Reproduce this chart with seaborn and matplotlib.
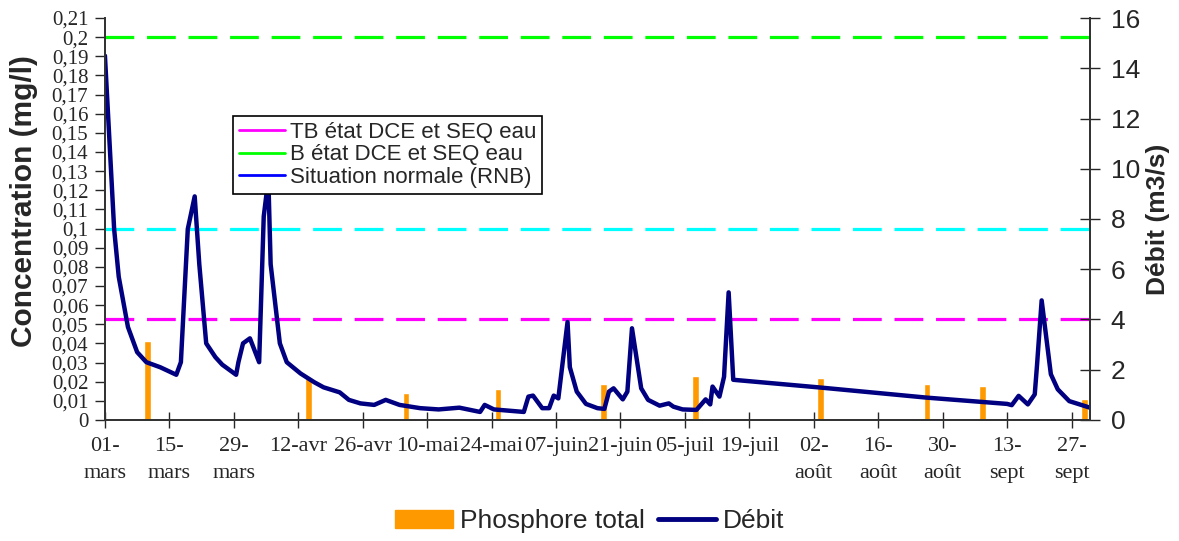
import matplotlib
matplotlib.use("Agg")
import matplotlib.pyplot as plt
from matplotlib.lines import Line2D
from matplotlib.patches import Patch
from matplotlib.ticker import FuncFormatter, MultipleLocator
import seaborn as sns

# day 0 = 01-mars
jours_debit = [0, 2, 3, 5, 7, 9, 12, 15.5, 16.5, 18, 19.5, 20.5, 22, 24, 25.5,
               28.5, 29, 30, 31.5, 33.5, 34.5, 35.5, 36, 38, 39.5, 42.5, 45.5,
               47.5, 51, 53, 55.5, 58.5, 61, 64, 68.5, 72.5, 77, 81.5, 82.5,
               84.5, 91, 92, 93, 95, 96.5, 97.5, 98.5, 100.5, 101, 102.5, 104.5,
               107, 108.5, 109.5, 110.5, 112.5, 113.5, 114.5, 116.5, 118, 120.5,
               122.5, 123.5, 125.5, 128.5, 130.5, 131.5, 132, 133.5, 134.5, 135.5,
               136.5, 155.5, 178.5, 196, 197, 198.5, 200.5, 202, 202.5, 203.5,
               205.5, 207, 209.5, 214]
debit = [14.5, 7.6, 5.7, 3.7, 2.7, 2.3, 2.1, 1.8, 2.3, 7.6, 8.9, 6.2, 3.05, 2.5,
         2.2, 1.8, 2.3, 3.05, 3.25, 2.3, 8.1, 9.6, 6.2, 3.05, 2.3, 1.85, 1.5,
         1.3, 1.1, 0.8, 0.66, 0.6, 0.8, 0.6, 0.47, 0.42, 0.49, 0.32, 0.6, 0.42,
         0.32, 0.93, 0.97, 0.47, 0.47, 0.97, 0.86, 3.9, 2.1, 1.13, 0.64, 0.47,
         0.44, 1.13, 1.26, 0.82, 1.13, 3.65, 1.26, 0.8, 0.57, 0.66, 0.53, 0.42,
         0.4, 0.82, 0.62, 1.33, 0.93, 1.72, 5.08, 1.6, 1.29, 0.89, 0.64, 0.59,
         0.96, 0.62, 1.02, 2.2, 4.76, 1.82, 1.22, 0.75, 0.49]

jours_phos = [9.3, 44.3, 65.4, 85.4, 108.3, 128.3, 155.4, 178.6, 190.7, 212.8]
phosphore = [0.041, 0.022, 0.014, 0.016, 0.019, 0.023, 0.022, 0.019, 0.018, 0.011]

seuils = {"TB état DCE et SEQ eau": 0.053,
          "B état DCE et SEQ eau": 0.2,
          "Situation normale (RNB)": 0.1}
couleurs_seuils = ["#FF00FF", "#00FF00", "#00FFFF"]
couleurs_legende = ["#FF00FF", "#00FF00", "#0000FF"]

tick_jours = list(range(0, 211, 14))
tick_labels = ["01-\nmars", "15-\nmars", "29-\nmars", "12-avr", "26-avr",
               "10-mai", "24-mai", "07-juin", "21-juin", "05-juil", "19-juil",
               "02-\naoût", "16-\naoût", "30-\naoût", "13-\nsept", "27-\nsept"]

sns.set_style("ticks")
plt.rcParams["font.family"] = ["Liberation Sans", "DejaVu Sans"]

fig = plt.figure(figsize=(11.79, 5.41), dpi=100)
ax = fig.add_axes([0.089, 0.2237, 0.8355, 0.743])
ax2 = ax.twinx()

ax.bar(jours_phos, phosphore, width=1.5, color="#FF9900", zorder=2)
for (nom, val), c in zip(seuils.items(), couleurs_seuils):
    ax.axhline(val, color=c, lw=2.3, dashes=(9, 4), zorder=3)

sns.lineplot(x=jours_debit, y=debit, ax=ax2, color="#000080", lw=3.2)

ax.set_xlim(0, 214)
ax.set_ylim(0, 0.21)
ax2.set_ylim(0, 16)

ax.yaxis.set_major_locator(MultipleLocator(0.01))
ax.yaxis.set_major_formatter(FuncFormatter(
    lambda v, p: f"{v:.2f}".rstrip("0").rstrip(".").replace(".", ",")))
ax2.yaxis.set_major_locator(MultipleLocator(2))

ax.set_xticks(tick_jours)
ax.set_xticklabels(tick_labels, fontsize=16, family="Liberation Serif",
                   linespacing=1.6)
for t in ax.get_yticklabels():
    t.set_family("Liberation Serif")
    t.set_fontsize(15)
ax2.tick_params(axis="y", labelsize=19, direction="inout", length=14,
                width=1, pad=8)
ax.tick_params(axis="y", direction="out", length=7, width=1, pad=5)
ax.tick_params(axis="x", direction="inout", length=12, width=1, pad=6)

for a in (ax, ax2):
    a.spines["top"].set_visible(False)
    for s in ("left", "right", "bottom"):
        a.spines[s].set_color("#333333")
        a.spines[s].set_linewidth(1.3)

ax.set_ylabel("Concentration (mg/l)", fontsize=21.5, fontweight="bold")
ax.yaxis.set_label_coords(-0.068, 0.545)
ax2.set_ylabel("Débit (m3/s)", fontsize=19, fontweight="bold")
ax2.yaxis.set_label_coords(1.057, 0.5)
ax.set_xlabel("")
ax2.set_xlabel("")

handles = [Line2D([], [], color=c, lw=2) for c in couleurs_legende]
leg = ax2.legend(handles, list(seuils.keys()), loc="upper left",
                 bbox_to_anchor=(0.13, 0.756), borderaxespad=0, fontsize=16,
                 frameon=True, fancybox=False, edgecolor="black",
                 framealpha=1, facecolor="white",
                 handlelength=2.1, handletextpad=0.2, labelspacing=0.08,
                 borderpad=0.25)
leg.get_frame().set_linewidth(1.2)
leg.set_zorder(10)

fig.legend([Patch(color="#FF9900"), Line2D([], [], color="#000080", lw=3.5)],
           ["Phosphore total", "Débit"], loc="center",
           bbox_to_anchor=(0.5, 0.037), ncol=2, frameon=False, fontsize=19,
           handlelength=2.2, handletextpad=0.25, columnspacing=0.5)

fig.savefig("out.png", dpi=100)
